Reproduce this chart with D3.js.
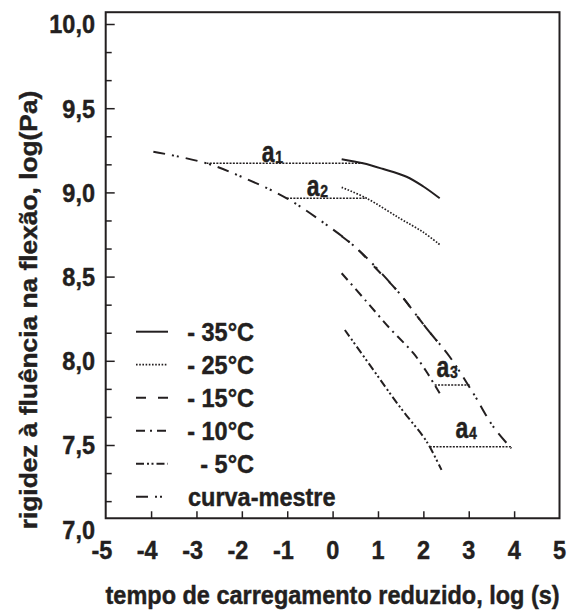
<!DOCTYPE html>
<html>
<head>
<meta charset="utf-8">
<script src="https://cdn.jsdelivr.net/npm/d3@7"></script>
<style>
  html, body { margin: 0; padding: 0; background: #fff; }
  svg { display: block; }
  text { font-family: "Liberation Sans", Arial, Helvetica, sans-serif; font-weight: bold; fill: #231f20; stroke: #231f20; stroke-width: 0.4; }
</style>
</head>
<body>
<svg id="chart" width="571" height="615"></svg>
<script>
// Flexural creep stiffness curves at several temperatures and the master curve (reference 15°C)
const seriesLabels = ["35°C", "25°C", "15°C", "10°C", "5°C"];
const masterLabel = "curva-mestre";

// [log t (s), log S (Pa)]
const curve35 = [[0.20, 9.197], [0.67, 9.173], [1.10, 9.140], [1.63, 9.093], [2.00, 9.035], [2.36, 8.965]];
const curve25 = [[0.20, 9.030], [0.75, 8.965], [1.48, 8.846], [2.00, 8.763], [2.36, 8.690]];
const curve15 = [[0.20, 8.740], [0.53, 8.668], [1.00, 8.536], [1.41, 8.420], [2.07, 8.193], [2.36, 8.097]];
const curve10 = [[0.20, 8.520], [0.75, 8.351], [1.26, 8.193], [1.78, 8.045], [2.07, 7.935], [2.25, 7.856], [2.36, 7.807]];
const curve5  = [[0.27, 8.183], [0.90, 7.945], [1.48, 7.727], [2.00, 7.549], [2.14, 7.490], [2.40, 7.352]];
const masterCurve = [[-3.95, 9.242], [-2.78, 9.173], [-1.90, 9.080], [-1.01, 8.965], [-0.20, 8.820], [0.53, 8.668],
                     [1.41, 8.420], [2.07, 8.193], [2.58, 8.024], [3.10, 7.807], [3.54, 7.609], [3.94, 7.480]];

// Horizontal shift factors: [from log t, to log t, at log S]
const shiftNames = ["1", "2", "3", "4"];
const shiftSpans = [[-2.78, 0.67, 9.173], [-1.01, 0.75, 8.965], [2.25, 3.02, 7.856], [2.14, 3.94, 7.490]];
// label anchor [log t, log S]
const shiftLabelAt = [[-1.56, 9.182], [-0.57, 8.98], [2.29, 7.905], [2.71, 7.54]];

const xTicks = [-5, -4, -3, -2, -1, 0, 1, 2, 3, 4, 5];
const yTickLabels = [7.0, 7.5, 8.0, 8.5, 9.0, 9.5, 10.0];
const xTitle = "tempo de carregamento reduzido, log (s)";
const yTitle = "rigidez à fluência na flexão, log(Pa)";

const svg = d3.select("#chart");
const ink = "#231f20";
const stretch = 1.12;   // lettering is drawn slightly tall

const x = d3.scaleLinear().domain([-5, 5]).range([105.7, 559.5]);
const y = d3.scaleLinear().domain([7, 10]).range([529.2, 24]);
const frameBottom = 7.065, frameTop = 10.07;

const ptBR = d3.formatLocale({decimal: ",", thousands: ".", grouping: [3], currency: ["R$", ""]});
const fmt1 = ptBR.format(".1f");

// place a text at (px, py) baseline, stretched vertically
function at(px, py) { return `translate(${px},${py}) scale(1,${stretch})`; }

// Plot frame
svg.append("rect")
  .attr("x", x(-5)).attr("y", y(frameTop))
  .attr("width", x(5) - x(-5)).attr("height", y(frameBottom) - y(frameTop))
  .attr("fill", "none").attr("stroke", ink).attr("stroke-width", 2);

// Y ticks (inward): majors at labelled values, minors every 1/6
const yMinor = d3.range(1, 18).map(i => 7 + i / 6).filter(v => Math.abs(v * 2 - Math.round(v * 2)) > 1e-6);
const yMajor = yTickLabels.filter(v => v > frameBottom && v < frameTop);
function strip(g) { g.select(".domain").remove(); g.selectAll("line").attr("stroke", ink).attr("stroke-width", 1.5); }
svg.append("g").attr("transform", `translate(${x(-5)},0)`)
  .call(d3.axisRight(y).tickValues(yMinor).tickSize(6).tickFormat("")).call(strip);
svg.append("g").attr("transform", `translate(${x(-5)},0)`)
  .call(d3.axisRight(y).tickValues(yMajor).tickSize(9).tickFormat("")).call(strip);

// X ticks (inward)
svg.append("g").attr("transform", `translate(0,${y(frameBottom)})`)
  .call(d3.axisTop(x).tickValues(xTicks.slice(1, -1)).tickSize(7).tickFormat("")).call(strip);

const fs = 23.5;
// Y tick labels
svg.append("g").selectAll("text").data(yTickLabels).join("text")
  .attr("transform", d => at(95, y(d) + 9.4))
  .attr("text-anchor", "end").attr("font-size", fs)
  .text(d => fmt1(d));

// X tick labels: digit centred on the tick, minus sign hanging left
svg.append("g").selectAll("text").data(xTicks).join("text")
  .attr("transform", d => at(x(d) + 6.6, 559))
  .attr("text-anchor", "end").attr("font-size", fs)
  .text(d => String(d));

// Axis titles
svg.append("text").attr("transform", at((x(-5) + x(5)) / 2, 603.5))
  .attr("text-anchor", "middle").attr("font-size", fs).text(xTitle);
svg.append("text").attr("transform", `translate(37,310) scale(1,${stretch}) rotate(-90)`)
  .attr("text-anchor", "middle").attr("font-size", fs).text(yTitle);

// Line styles
const styles = {
  "35°C": {dash: null, w: 2},
  "25°C": {dash: "1.6,1.6", w: 1.7},
  "15°C": {dash: "10,12", w: 2},
  "10°C": {dash: "9,5,2,5", w: 2},
  "5°C":  {dash: "8,3,2,2.5,2,3", w: 2},
  "curva-mestre": {dash: "12,7,2,3,2,7", w: 2}
};

const line = d3.line().x(d => x(d[0])).y(d => y(d[1])).curve(d3.curveCatmullRom.alpha(0.5));

const curves = [
  [masterLabel, masterCurve],
  ["35°C", curve35], ["25°C", curve25], ["15°C", curve15], ["10°C", curve10], ["5°C", curve5]
];
svg.append("g").selectAll("path").data(curves).join("path")
  .attr("d", d => line(d[1]))
  .attr("fill", "none").attr("stroke", ink)
  .attr("stroke-width", d => styles[d[0]].w)
  .attr("stroke-dasharray", d => styles[d[0]].dash);

// Shift-factor connectors and labels
const shifts = shiftNames.map((n, i) => ({n, span: shiftSpans[i], at: shiftLabelAt[i]}));
svg.append("g").selectAll("line").data(shifts).join("line")
  .attr("x1", d => x(d.span[0])).attr("x2", d => x(d.span[1]))
  .attr("y1", d => y(d.span[2])).attr("y2", d => y(d.span[2]))
  .attr("stroke", ink).attr("stroke-width", 1.5).attr("stroke-dasharray", "2,1.3");
const lab = svg.append("g").selectAll("g").data(shifts).join("g")
  .attr("transform", d => `translate(${x(d.at[0])},${y(d.at[1])})`);
lab.append("text").attr("font-size", 27).attr("transform", "scale(0.85,1.12)").text("a");
lab.append("text").attr("x", 13.5).attr("y", 1).attr("font-size", 14).attr("transform", "scale(1,1.12)").text(d => d.n);

// Legend
const legendItems = seriesLabels.concat([masterLabel]);
const leg = svg.append("g").selectAll("g").data(legendItems).join("g")
  .attr("transform", (d, i) => `translate(0,${331.7 + i * 33})`);
leg.append("line").attr("x1", 136).attr("x2", 168).attr("y1", 0).attr("y2", 0)
  .attr("stroke", ink).attr("stroke-width", d => styles[d].w)
  .attr("stroke-dasharray", d => styles[d].dash);
leg.append("text")
  .attr("transform", d => at(d === masterLabel ? 188 : 254, 9.4))
  .attr("text-anchor", d => d === masterLabel ? "start" : "end")
  .attr("font-size", fs)
  .text(d => d === masterLabel ? d : "- " + d);
</script>
</body>
</html>
